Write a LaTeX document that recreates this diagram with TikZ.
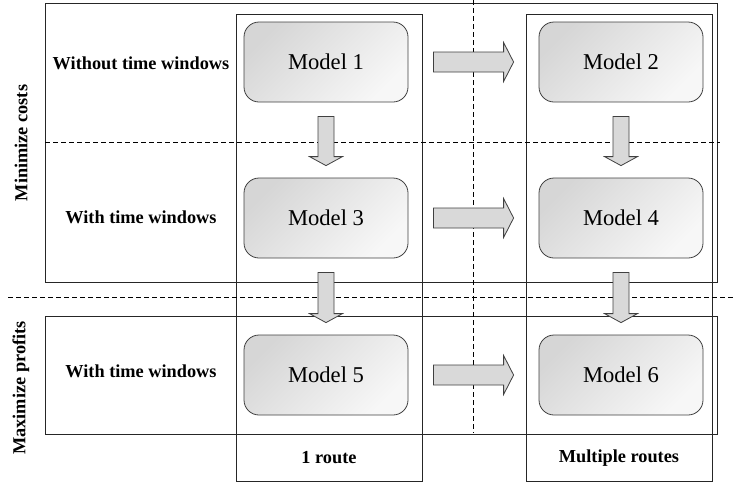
\documentclass[tikz,border=0pt]{standalone}
\usepackage{fontspec}
\setmainfont{Liberation Serif}
\usetikzlibrary{calc}
\tikzset{
  frame/.style={draw=black!85, line width=1pt},
  dashline/.style={draw=black, line width=0.9pt, dash pattern=on 5pt off 3pt},
  model/.style={draw=black!75, line width=0.8pt, rounded corners=15pt,
    minimum width=164pt, minimum height=80pt, inner sep=0pt,
    top color=black!16, bottom color=black!3, shading angle=45,
    font=\fontsize{22.6}{26}\selectfont},
  lbl/.style={font=\fontsize{18.3}{22}\selectfont\bfseries, inner sep=0pt},
  blockarrow/.style={draw=black!75, fill=black!15, line width=0.8pt, line join=miter},
}
\newcommand{\harrowblk}[2]{%
  \path[blockarrow] let \p1=(#1.east), \p2=(#2.west) in
    (\x1+25pt,\y1+10pt) -- (\x2-35pt,\y1+10pt) -- (\x2-35pt,\y1+19.5pt) --
    (\x2-25pt,\y1) -- (\x2-35pt,\y1-19.5pt) -- (\x2-35pt,\y1-10pt) --
    (\x1+25pt,\y1-10pt) -- cycle;}
\newcommand{\varrowblk}[2]{%
  \path[blockarrow] let \p1=(#1.south), \p2=(#2.north) in
    (\x1-8pt,\y1-14pt) -- (\x1-8pt,\y2+21pt) -- (\x1-16.5pt,\y2+21pt) --
    (\x1,\y2+12pt) -- (\x1+16.5pt,\y2+21pt) -- (\x1+8pt,\y2+21pt) --
    (\x1+8pt,\y1-14pt) -- cycle;}
\begin{document}
\begin{tikzpicture}[x=1pt,y=-1pt]
\useasboundingbox (0,0) rectangle (733,483);
% frames
\draw[frame] (45,3) rectangle (717,282);
\draw[frame] (45,316) rectangle (717,434);
\draw[frame] (236,14) rectangle (422,481);
\draw[frame] (526,14) rectangle (712,481);
% dashed lines
\draw[dashline] (45,142) -- (720,142);
\draw[dashline] (8,297) -- (733,297);
\draw[dashline] (473,0) -- (473,433);
% labels
\node[lbl] (l1) at (141,63) {Without time windows};
\node[lbl] (l2) at (141,217) {With time windows};
\node[lbl] (l3) at (141,371) {With time windows};
\node[lbl, rotate=90] (lc) at (21,143) {Minimize costs};
\node[lbl, rotate=90] (lp) at (21,388) {Maximize profits};
\node[lbl] (r1) at (329,458) {1 route};
\node[lbl] (r2) at (619,458) {Multiple routes};
% models
\node[model] (m1) at (326,62) {Model 1};
\node[model] (m2) at (621,62) {Model 2};
\node[model] (m3) at (326,218) {Model 3};
\node[model] (m4) at (621,218) {Model 4};
\node[model] (m5) at (326,375) {Model 5};
\node[model] (m6) at (621,375) {Model 6};
% block arrows
\harrowblk{m1}{m2}
\harrowblk{m3}{m4}
\harrowblk{m5}{m6}
\varrowblk{m1}{m3}
\varrowblk{m3}{m5}
\varrowblk{m2}{m4}
\varrowblk{m4}{m6}
\end{tikzpicture}
\end{document}
